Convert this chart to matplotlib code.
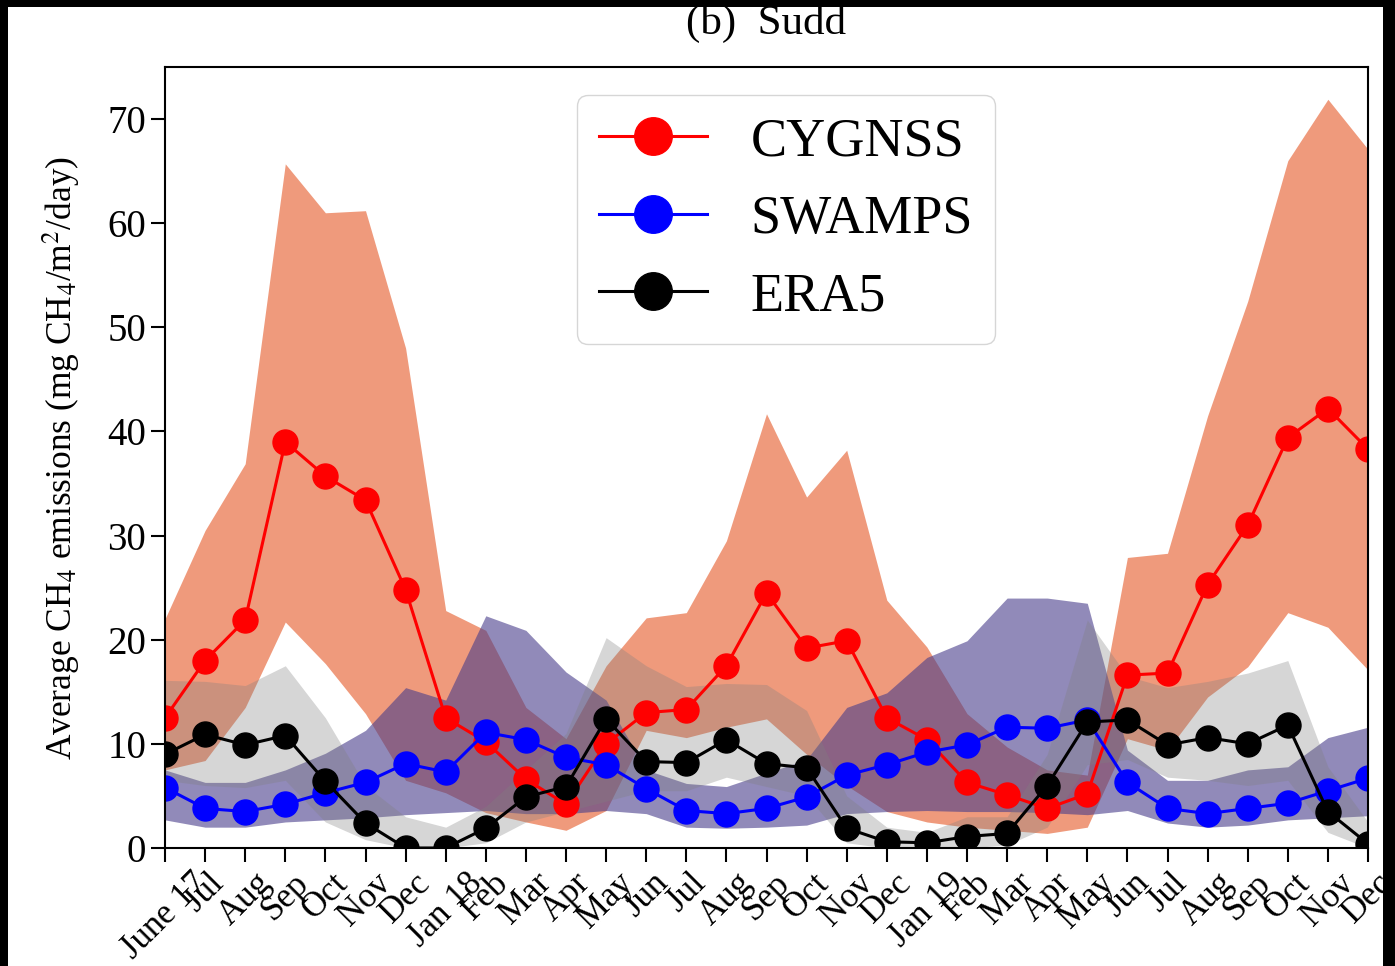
import numpy as np
import matplotlib
matplotlib.use("Agg")
import matplotlib.pyplot as plt
from matplotlib.patches import Rectangle

plt.rcParams['font.family'] = ['Liberation Serif', 'DejaVu Serif']
plt.rcParams['mathtext.fontset'] = 'stix'

# month labels, June 2017 .. Dec 2019
months = ['June 17', 'Jul', 'Aug', 'Sep', 'Oct', 'Nov', 'Dec',
          'Jan 18', 'Feb', 'Mar', 'Apr', 'May', 'Jun', 'Jul', 'Aug', 'Sep', 'Oct', 'Nov', 'Dec',
          'Jan 19', 'Feb', 'Mar', 'Apr', 'May', 'Jun', 'Jul', 'Aug', 'Sep', 'Oct', 'Nov', 'Dec']

# mean emissions
cygnss = [12.5, 18.0, 21.9, 39.0, 35.7, 33.4, 24.8, 12.5, 10.2, 6.6, 4.2, 10.0, 13.0, 13.3, 17.5,
          24.5, 19.2, 19.9, 12.5, 10.4, 6.3, 5.1, 3.8, 5.2, 16.6, 16.8, 25.3, 31.0, 39.4, 42.2, 38.3]
swamps = [5.8, 3.8, 3.5, 4.2, 5.3, 6.3, 8.1, 7.3, 11.1, 10.4, 8.7, 8.0, 5.7, 3.6, 3.3,
          3.8, 4.9, 7.0, 8.0, 9.2, 9.9, 11.6, 11.5, 12.3, 6.3, 3.8, 3.3, 3.8, 4.3, 5.5, 6.7]
era5 = [9.0, 10.9, 9.9, 10.8, 6.4, 2.4, 0.0, 0.0, 1.9, 4.9, 5.9, 12.4, 8.3, 8.2, 10.4,
        8.1, 7.7, 1.9, 0.6, 0.5, 1.1, 1.4, 6.0, 12.1, 12.3, 9.9, 10.6, 10.0, 11.8, 3.5, 0.4]

# spread bands (upper / lower)
cygnss_hi = [22.0, 30.5, 36.9, 65.7, 61.0, 61.2, 48.0, 22.8, 20.9, 13.5, 10.5, 17.5, 22.1, 22.6, 29.5,
             41.7, 33.7, 38.2, 23.8, 19.3, 12.9, 9.7, 7.5, 7.0, 27.9, 28.3, 41.5, 52.5, 66.0, 71.9, 67.1]
cygnss_lo = [7.5, 8.4, 13.5, 21.7, 17.7, 12.9, 6.5, 5.3, 3.4, 2.5, 1.7, 3.6, 11.3, 10.6, 11.6,
             12.4, 9.0, 6.0, 3.5, 2.5, 2.0, 1.7, 1.4, 2.0, 10.5, 9.4, 14.5, 17.4, 22.6, 21.2, 17.1]
swamps_hi = [7.5, 6.3, 6.3, 7.5, 9.1, 11.3, 15.4, 14.2, 22.3, 20.9, 16.9, 14.2, 7.5, 6.2, 5.9,
             7.2, 8.5, 13.5, 14.9, 18.3, 19.9, 24.0, 24.0, 23.5, 9.4, 6.5, 6.5, 7.5, 7.8, 10.6, 11.6]
swamps_lo = [2.7, 2.0, 2.0, 2.5, 2.7, 2.9, 3.2, 3.4, 3.6, 3.3, 3.3, 3.6, 3.3, 2.0, 1.9,
             2.0, 2.2, 3.3, 3.5, 3.6, 3.5, 3.5, 3.4, 3.2, 3.6, 2.4, 2.0, 2.2, 2.7, 2.9, 3.1]
era5_hi = [16.1, 16.0, 15.6, 17.5, 12.5, 6.0, 3.0, 2.0, 4.0, 7.5, 11.0, 20.2, 17.5, 15.5, 15.8,
           15.7, 13.2, 5.0, 2.0, 1.5, 3.0, 3.0, 9.0, 21.9, 16.5, 15.4, 16.0, 16.8, 18.0, 7.8, 2.5]
era5_lo = [6.5, 6.0, 5.8, 6.5, 2.5, 0.8, 0.0, 0.0, 0.5, 2.5, 3.5, 4.5, 5.5, 5.5, 6.8,
           5.9, 5.0, 0.5, 0.0, 0.0, 0.0, 0.3, 2.0, 8.0, 8.5, 6.8, 6.5, 6.0, 6.5, 1.5, 0.0]

x = np.arange(len(months))

fig = plt.figure(figsize=(13.95, 9.66), dpi=100)
fig.patch.set_facecolor('black')
fig.add_artist(Rectangle((8 / 1395, 0), 1375 / 1395, 959 / 966, transform=fig.transFigure,
                         facecolor='white', edgecolor='none', zorder=-1))
ax = fig.add_axes([165 / 1395, 1 - 848 / 966, 1203 / 1395, 781 / 966])

ax.fill_between(x, cygnss_lo, cygnss_hi, color='#EF9A7C', linewidth=0)
ax.fill_between(x, swamps_lo, swamps_hi, color='darkslateblue', alpha=0.6, linewidth=0)
ax.fill_between(x, era5_lo, era5_hi, color='gray', alpha=0.32, linewidth=0)

ax.plot(x, cygnss, '-o', color='red', lw=2.2, ms=18, label='CYGNSS')
ax.plot(x, swamps, '-o', color='blue', lw=2.2, ms=18, label='SWAMPS')
ax.plot(x, era5, '-o', color='black', lw=2.2, ms=18, label='ERA5')

ax.set_xlim(0, 30)
ax.set_ylim(0, 75)
ax.set_xticks(x)
ax.set_xticklabels(months, rotation=45, fontsize=25)
ax.set_yticks(np.arange(0, 71, 10))
ax.tick_params(axis='y', labelsize=28)
ax.tick_params(direction='out', length=10, width=1.5)
for s in ax.spines.values():
    s.set_linewidth(1.5)

ax.set_ylabel('Average CH$_4$ emissions (mg CH$_4$/m$^2$/day)', fontsize=25.5)
ax.yaxis.set_label_coords(-0.068, 0.5)
ax.set_title('(b)  Sudd', fontsize=31, pad=24)

ax.legend(loc='upper left', bbox_to_anchor=(0.3425, 0.964), borderaxespad=0,
          fontsize=39, markerscale=1.5)

fig.savefig('out.png', dpi=100)
